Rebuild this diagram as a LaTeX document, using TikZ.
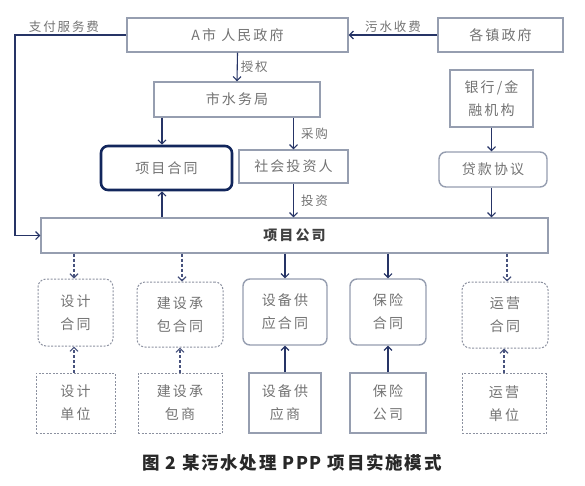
\documentclass[tikz,border=0pt]{standalone}
\usepackage{fontspec}
\setmainfont{Liberation Serif}
\newfontfamily\cjk[LetterSpace=15]{Noto Sans CJK SC}
\newfontfamily\cjkcap[LetterSpace=10]{Noto Sans CJK SC}
\usetikzlibrary{arrows.meta,calc}
\definecolor{boxc}{RGB}{150,158,176}
\definecolor{dashc}{RGB}{140,145,160}
\definecolor{arrc}{RGB}{38,52,102}
\definecolor{txtc}{RGB}{115,115,115}
\definecolor{thickc}{RGB}{18,38,92}
\definecolor{capc}{RGB}{40,40,40}
\begin{document}
\begin{tikzpicture}[x=1pt,y=-1pt,
  box/.style={draw=boxc, line width=1.4pt, inner sep=0pt, align=center, text=txtc,
              font=\cjk\fontsize{14}{23}\selectfont},
  rbox/.style={box, rounded corners=7pt},
  dbox/.style={box, draw=dashc, line width=1pt, dash pattern=on 2pt off 1.5pt},
  drbox/.style={dbox, rounded corners=8pt},
  arr/.style={draw=arrc, line width=1.1pt, -{Straight Barb[length=4pt,width=8pt]}},
  darr/.style={arr, draw=arrc!85, dash pattern=on 3pt off 2pt},
  lbl/.style={font=\cjk\fontsize{12.5}{12.5}\selectfont, text=txtc, inner sep=1pt}]
\fill[white] (0,0) rectangle (585,485);
\useasboundingbox (0,0) rectangle (585,485);

% top row
\node[box, minimum width=221, minimum height=34] (gov) at (237.5,35) {A市 人民政府};
\node[box, minimum width=125, minimum height=34] (town) at (500.5,35) {各镇政府};
\node[box, minimum width=166, minimum height=35] (water) at (237,99.5) {市水务局};
\node[box, minimum width=83, minimum height=57] (bank) at (491.5,98.5) {银行/金\\融机构};
\node[rbox, draw=thickc, line width=2.6pt, minimum width=131, minimum height=44] (contract) at (166.5,168) {项目合同};
\node[box, minimum width=109, minimum height=33] (investor) at (293.5,166.5) {社会投资人};
\node[rbox, minimum width=108, minimum height=35] (loan) at (493,169.5) {贷款协议};
\node[box, minimum width=507, minimum height=35, text=black!75,
      font=\cjk\bfseries\fontsize{14}{14}\selectfont] (company) at (294.5,235.5) {项目公司};

% contract row
\node[drbox, minimum width=75, minimum height=67] (c1) at (75.5,312.5) {设计\\合同};
\node[drbox, minimum width=86, minimum height=65] (c2) at (180,314.5) {建设承\\包合同};
\node[rbox, minimum width=84, minimum height=66] (c3) at (285,312) {设备供\\应合同};
\node[rbox, minimum width=76, minimum height=66] (c4) at (388,312) {保险\\合同};
\node[drbox, minimum width=86, minimum height=66] (c5) at (505,315) {运营\\合同};

% party row
\node[dbox, minimum width=79, minimum height=60] (p1) at (75.5,403) {设计\\单位};
\node[dbox, minimum width=84, minimum height=60] (p2) at (180,403) {建设承\\包商};
\node[box, minimum width=72, minimum height=60] (p3) at (285,403) {设备供\\应商};
\node[box, minimum width=76, minimum height=60] (p4) at (388,403) {保险\\公司};
\node[dbox, minimum width=84, minimum height=60] (p5) at (504,403.5) {运营\\单位};

% caption
\node[font=\cjkcap\bfseries\fontsize{17.5}{18}\selectfont, text=capc] (cap) at (292,463) {图 2 某污水处理 PPP 项目实施模式};

% connectors
\draw[arr] (gov.south) -- (water.north) node[lbl, midway, right, xshift=2pt] {授权};
\draw[arr] (town.west) -- (gov.east) node[lbl, midway, above, yshift=1pt] {污水收费};
\coordinate (lc) at (15,35);
\draw[arr] (gov.west) -- (lc) node[lbl, pos=0.56, above, yshift=1pt] {支付服务费} |- (company.west);
\draw[arr] ([xshift=-4.5pt]water.south -| contract.north) -- ([xshift=-4.5pt]contract.north);
\draw[arr] (water.south -| investor.north) -- (investor.north) node[lbl, midway, right, xshift=6pt] {采购};
\draw[arr] (investor.south) -- (company.north -| investor.south) node[lbl, midway, right, xshift=6pt] {投资};
\draw[arr] ([xshift=-4.5pt]company.north -| contract.south) -- ([xshift=-4.5pt]contract.south);
\draw[arr] (bank.south) -- (loan.north -| bank.south);
\draw[arr] (loan.south -| bank.south) -- (company.north -| bank.south);

\draw[darr] ([xshift=-1.5pt]company.south -| c1.north) -- ([xshift=-1.5pt]c1.north);
\draw[darr] ([xshift=2pt]company.south -| c2.north) -- ([xshift=2pt]c2.north);
\draw[arr] (company.south -| c3.north) -- (c3.north);
\draw[arr] (company.south -| c4.north) -- (c4.north);
\draw[darr] ([xshift=2pt]company.south -| c5.north) -- ([xshift=2pt]c5.north);

\draw[darr] ([xshift=-1.5pt]p1.north) -- ([xshift=-1.5pt]c1.south);
\draw[darr] (p2.north) -- (p2.north |- c2.south);
\draw[arr] (p3.north) -- (c3.south);
\draw[arr] (p4.north) -- (c4.south);
\draw[darr] (p5.north) -- (p5.north |- c5.south);
\end{tikzpicture}
\end{document}
